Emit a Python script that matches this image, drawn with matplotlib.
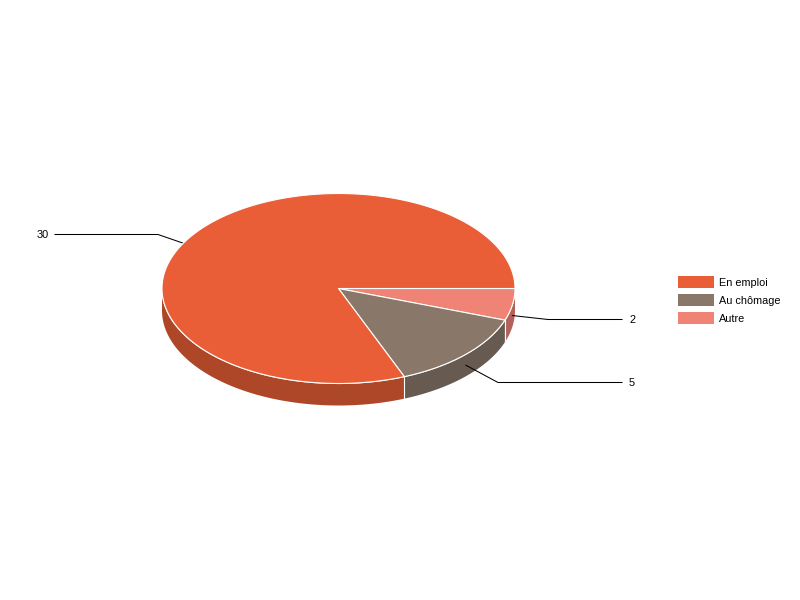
import matplotlib
matplotlib.use("Agg")
import matplotlib.pyplot as plt
from matplotlib.patches import Polygon, Rectangle
import numpy as np

plt.rcParams['font.family'] = ['Liberation Sans', 'DejaVu Sans']

# clockwise from 3 o'clock, the way the chart stacks them
categories = ["Autre", "Au chômage", "En emploi"]
values = [2, 5, 30]
top_colors = ["#EE8376", "#89786A", "#EA5E37"]
side_colors = ["#B3625A", "#675A50", "#AE4628"]

legend_order = ["En emploi", "Au chômage", "Autre"]

cx, cy = 338.5, 288.5
rx, ry = 176.5, 95
depth = 22


def ell(deg, off=0):
    t = np.radians(deg)
    return np.column_stack([cx + rx * np.cos(t), cy + ry * np.sin(t) + off])


fig = plt.figure(figsize=(8, 6), dpi=100)
ax = fig.add_axes([0, 0, 1, 1])
ax.set_xlim(0, 800)
ax.set_ylim(600, 0)
ax.axis("off")

fracs = np.array(values) / sum(values)
edges = np.concatenate([[0], np.cumsum(fracs) * 360])

# side walls, only the front half of the ellipse shows
for i in range(len(values)):
    a = edges[i]
    b = min(edges[i + 1], 180)
    if a >= 180:
        continue
    ts = np.linspace(a, b, 120)
    pts = np.vstack([ell(ts), ell(ts[::-1], depth)])
    ax.add_patch(Polygon(pts, closed=True, fc=side_colors[i], ec="none", zorder=1))
    if a > 0:
        p = np.vstack([ell([a]), ell([a], depth)])
        ax.plot(p[:, 0], p[:, 1], color="white", lw=0.8, zorder=1.5)
ts = np.linspace(180, 0, 200)
ax.plot(*ell(ts, 0).T, color="white", lw=0.8, zorder=1.6)

# leader lines, elbow positions per slice
elbows = {"Autre": (548, 319.5), "Au chômage": (498, 382.5), "En emploi": (158, 234.5)}
ends = {"Autre": 622, "Au chômage": 622, "En emploi": 55}
for i, name in enumerate(categories):
    mid = (edges[i] + edges[i + 1]) / 2
    start = ell([mid], depth / 2)[0]
    ex, ey = elbows[name]
    ax.plot([start[0], ex, ends[name]], [start[1], ey, ey], color="black", lw=0.75, zorder=2,
            solid_joinstyle="miter")
    if ends[name] > cx:
        ax.text(ends[name] + 7, ey + 0.5, str(values[i]), fontsize=7.9, ha="left", va="center", color="black")
    else:
        ax.text(ends[name] - 6, ey + 0.5, str(values[i]), fontsize=7.9, ha="right", va="center", color="black")

# top face
for i in range(len(values)):
    ts = np.linspace(edges[i], edges[i + 1], 300)
    pts = np.vstack([[cx, cy], ell(ts)])
    ax.add_patch(Polygon(pts, closed=True, fc=top_colors[i], ec="white", lw=0.8,
                         joinstyle="round", zorder=3))

# legend
for k, name in enumerate(legend_order):
    i = categories.index(name)
    y = 276 + 18 * k
    ax.add_patch(Rectangle((678, y), 36, 12, fc=top_colors[i], ec="none", zorder=3))
    ax.text(719, y + 6.5, name, fontsize=7.8, ha="left", va="center", color="black")

fig.savefig("out.png", dpi=100, facecolor="white")
